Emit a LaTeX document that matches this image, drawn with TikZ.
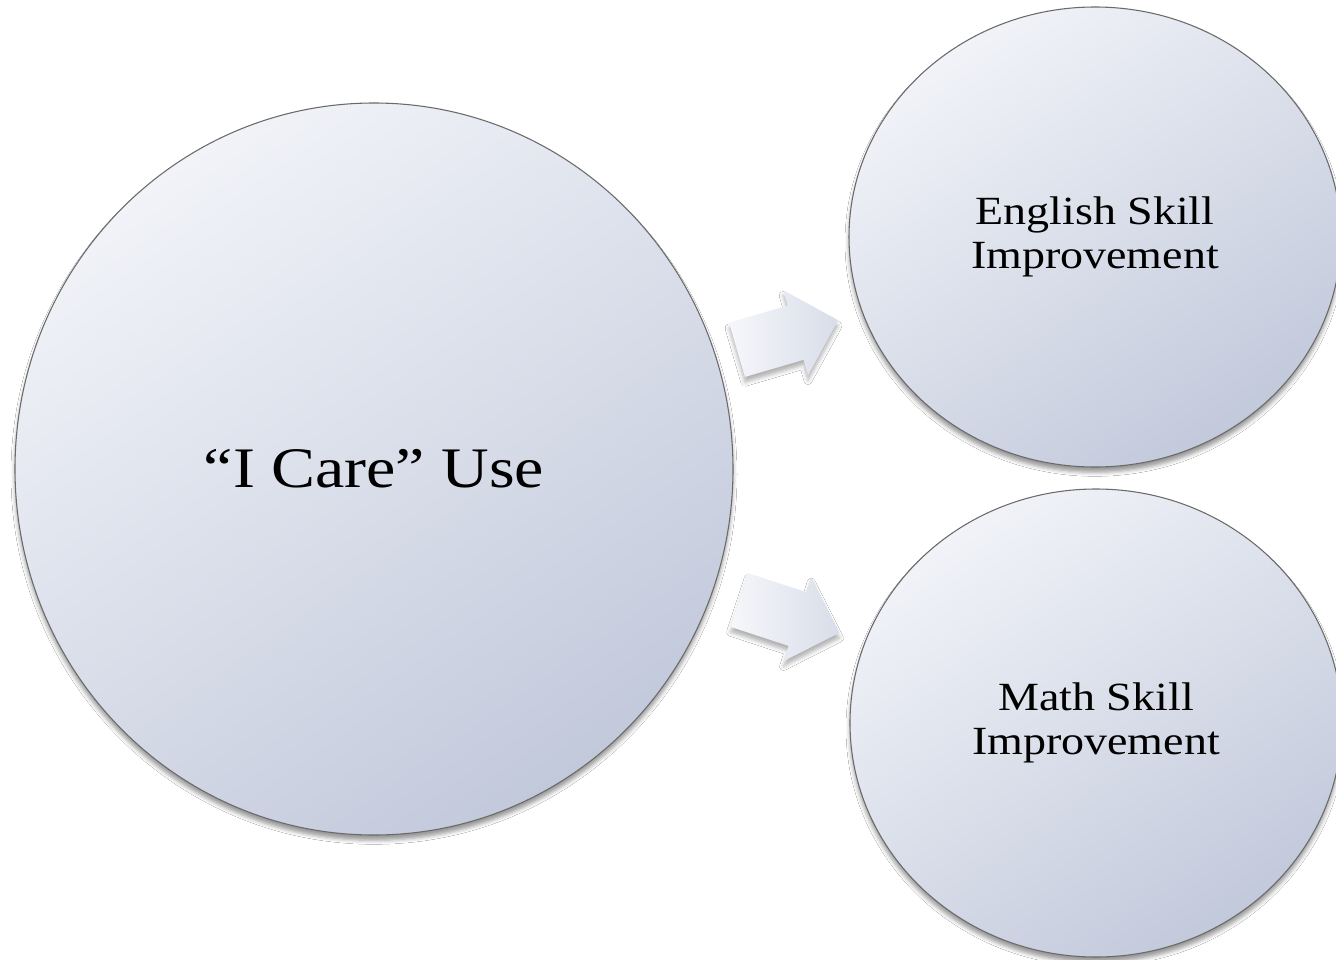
\documentclass[tikz,border=0pt]{standalone}
\usepackage{fontspec}
\setmainfont{Liberation Serif}
\newfontfamily\georgia[FakeStretch=1.15]{Liberation Serif}
\usetikzlibrary{shapes.geometric,shapes.arrows,shadows.blur}
\definecolor{bubbletop}{HTML}{F1F3F8}
\definecolor{bubblebot}{HTML}{C2C9DB}
\definecolor{bubbleedge}{HTML}{6A6A6A}
\definecolor{arrowlight}{HTML}{F6F7FB}
\definecolor{arrowdark}{HTML}{D8DDE8}
\begin{document}
\begin{tikzpicture}[x=0.75pt,y=-0.75pt,
  bubble/.style={ellipse, draw=bubbleedge, line width=0.8pt, inner sep=0pt,
    top color=bubbletop, bottom color=bubblebot, shading angle=35,
    blur shadow={shadow xshift=0pt, shadow yshift=-4pt, shadow blur radius=3pt, shadow opacity=40},
    align=center, text=black},
  bigtext/.style={font=\georgia\fontsize{43}{48}\selectfont},
  smalltext/.style={font=\georgia\fontsize{30}{33}\selectfont},
  blockarrow/.style={single arrow, draw=none, inner xsep=0pt, inner ysep=0pt,
    minimum height=79pt, single arrow head extend=12pt,
    single arrow tip angle=90, left color=arrowlight, right color=arrowdark,
    blur shadow={shadow xshift=0pt, shadow yshift=-4pt, shadow blur radius=3pt, shadow opacity=30}}]
\useasboundingbox (0,0) rectangle (1336,960);
\fill[white] (0,0) rectangle (1336,960);
\clip (0,0) rectangle (1336,960);
\node[bubble, bigtext, minimum width=538.5pt, minimum height=549pt] (use) at (374,469) {“I Care” Use};
\node[bubble, smalltext, minimum width=369pt, minimum height=345pt] (eng) at (1095,237) {English Skill\\Improvement};
\node[bubble, smalltext, minimum width=369pt, minimum height=351pt] (math) at (1096,723) {Math Skill\\Improvement};
\node[blockarrow, rotate=16.3] (a1) at (774,339) {\rule{0pt}{42pt}};
\node[blockarrow, rotate=-18.2] (a2) at (776,612) {\rule{0pt}{42pt}};
\end{tikzpicture}
\end{document}
